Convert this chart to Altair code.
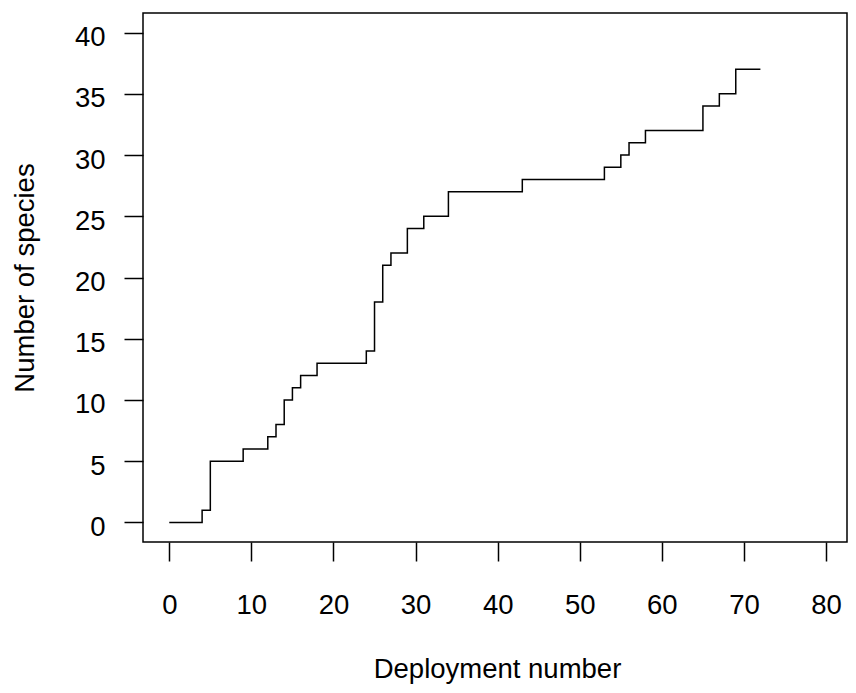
import altair as alt
import pandas as pd

# Species accumulation step curve (change points)
deployment = [0, 4, 5, 9, 12, 13, 14, 15, 16, 18, 24, 25, 26, 27, 29, 31, 34,
              43, 53, 55, 56, 58, 65, 67, 69, 72]
species = [0, 1, 5, 6, 7, 8, 10, 11, 12, 13, 14, 18, 21, 22, 24, 25, 27,
           28, 29, 30, 31, 32, 34, 35, 37, 37]

x_ticks = [0, 10, 20, 30, 40, 50, 60, 70, 80]
y_ticks = [0, 5, 10, 15, 20, 25, 30, 35, 40]

df = pd.DataFrame({"deployment": deployment, "species": species})

FONT = "Liberation Sans"
FS = 27.5
W, H = 704, 529
PX_PER_UNIT = 8.21
X_MIN = -3.2
X_MAX = X_MIN + W / PX_PER_UNIT

chart = alt.Chart(df).mark_line(
    interpolate="step-after", color="black", strokeWidth=1.5
).encode(
    x=alt.X(
        "deployment:Q",
        scale=alt.Scale(domain=[X_MIN, X_MAX], nice=False, zero=False),
        axis=alt.Axis(
            values=x_ticks, title="Deployment number", grid=False, domain=False,
            tickSize=19, tickWidth=1.5, tickColor="black",
            labelFont=FONT, labelFontSize=FS, labelColor="black",
            labelPadding=30, labelFlush=False,
            titleFont=FONT, titleFontSize=FS, titleFontWeight="normal",
            titleColor="black", titleBaseline="alphabetic", titleAlign="center",
            titleX=354, titleY=135,
        ),
    ),
    y=alt.Y(
        "species:Q",
        scale=alt.Scale(domain=[-1.6, 41.6], nice=False, zero=False),
        axis=alt.Axis(
            values=y_ticks, title="Number of species", grid=False, domain=False,
            tickSize=19, tickWidth=1.5, tickColor="black",
            labelFont=FONT, labelFontSize=FS, labelColor="black",
            labelPadding=19, labelOffset=5, labelFlush=False,
            titleFont=FONT, titleFontSize=FS, titleFontWeight="normal",
            titleColor="black", titleBaseline="alphabetic", titleAlign="center",
            titleAngle=270, titleX=-110, titleY=H / 2,
        ),
    ),
).properties(
    width=W,
    height=H,
    background="white",
    autosize=alt.AutoSizeParams(type="none"),
    padding={"left": 135, "top": 5, "right": 1, "bottom": 143},
).configure_view(
    stroke="black", strokeWidth=1.5
)

chart.save("out.html", embed_options={"renderer": "svg", "actions": False})
